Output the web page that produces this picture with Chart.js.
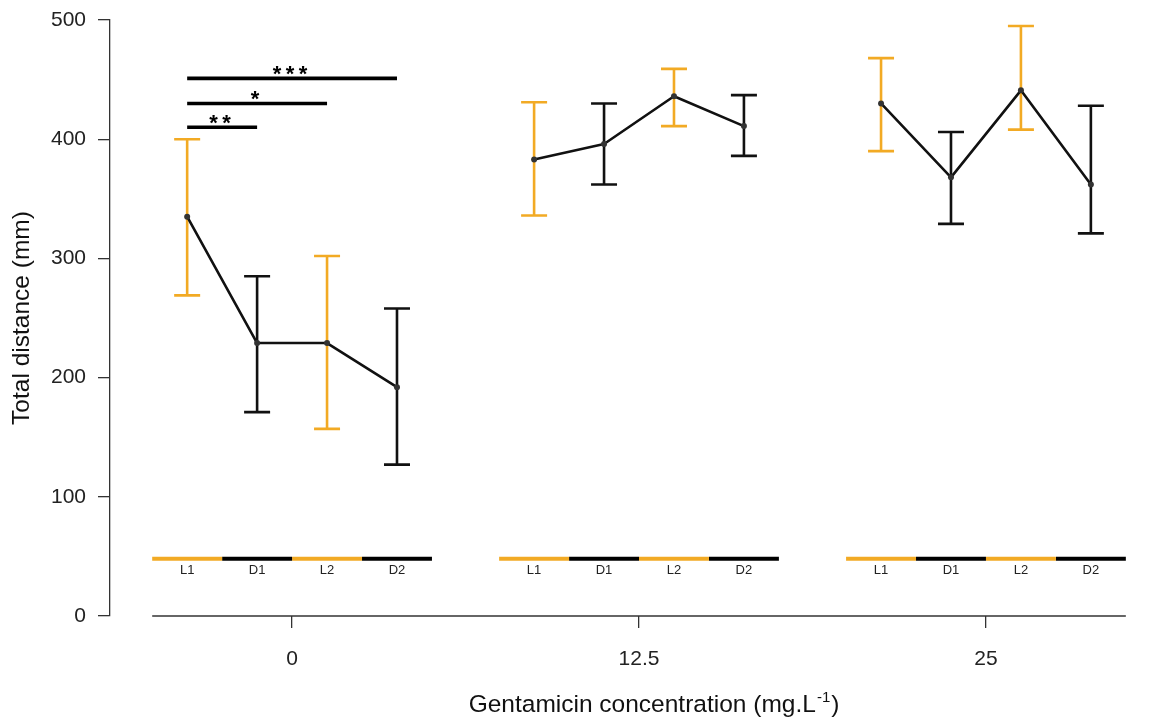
<!DOCTYPE html>
<html><head><meta charset="utf-8">
<script src="https://cdn.jsdelivr.net/npm/chart.js@4.4.1/dist/chart.umd.min.js"></script>
<style>html,body{margin:0;padding:0;background:#fff;}#wrap{width:1155px;height:720px;position:relative;}</style>
</head><body><div id="wrap"><canvas id="c"></canvas></div>
<script>
// ---- data ----
const concentrations = [0, 12.5, 25];
const concLabels = ['0', '12.5', '25'];
const phases = ['L1', 'D1', 'L2', 'D2'];
const mean0 = [335, 229, 229, 192];
const upper0 = [400, 285, 302, 258];
const lower0 = [269, 171, 157, 127];
const mean125 = [383, 396, 436, 411];
const upper125 = [431, 430, 459, 437];
const lower125 = [336, 362, 411, 386];
const mean25 = [430, 368, 441, 362];
const upper25 = [468, 406, 495, 428];
const lower25 = [390, 329, 408, 321];
const yTicks = [0, 100, 200, 300, 400, 500];
const sigFrom = ['L1', 'L1', 'L1'];
const sigTo = ['D1', 'L2', 'D2'];
const sigLevel = [410, 430, 451];
const sigStars = ['**', '*', '***'];

// ---- style ----
const ORANGE = '#F2AA24';
const BLACK = '#000000';
const phaseColors = [ORANGE, BLACK, ORANGE, BLACK];
const PW = 2.52;            // width of one phase slot in x units
const phaseBarY = 48;       // level of the phase strip
const FONT = "'Liberation Sans', Arial, Helvetica, sans-serif";
Chart.defaults.font.family = FONT;

const means = [mean0, mean125, mean25];
const uppers = [upper0, upper125, upper25];
const lowers = [lower0, lower125, lower25];
function phaseX(g, p) { return concentrations[g] + (p - 1.5) * PW; }

const datasets = [];
means.forEach((m, g) => {
  datasets.push({
    data: m.map((v, p) => ({x: phaseX(g, p), y: v})),
    showLine: true, borderColor: '#111', borderWidth: 2.6,
    pointRadius: 3, pointBackgroundColor: '#333', pointBorderWidth: 0,
    borderCapStyle: 'round', borderJoinStyle: 'round'
  });
});
sigFrom.forEach((f, i) => {
  const a = phases.indexOf(f), b = phases.indexOf(sigTo[i]);
  datasets.push({
    data: [{x: phaseX(0, a), y: sigLevel[i]}, {x: phaseX(0, b), y: sigLevel[i]}],
    showLine: true, borderColor: BLACK, borderWidth: 3.6, pointRadius: 0, borderCapStyle: 'butt'
  });
});
concentrations.forEach((c, g) => {
  phases.forEach((ph, p) => {
    datasets.push({
      data: [{x: phaseX(g, p) - PW / 2, y: phaseBarY}, {x: phaseX(g, p) + PW / 2, y: phaseBarY}],
      showLine: true, borderColor: phaseColors[p], borderWidth: 4, pointRadius: 0, borderCapStyle: 'butt'
    });
  });
});

const errorBars = {
  id: 'errorBars',
  beforeDatasetsDraw(chart) {
    const {ctx, scales: {x, y}} = chart;
    ctx.save();
    ctx.lineWidth = 2.6;
    ctx.lineCap = 'butt';
    means.forEach((m, g) => {
      m.forEach((v, p) => {
        const px = x.getPixelForValue(phaseX(g, p));
        const yt = y.getPixelForValue(uppers[g][p]);
        const yb = y.getPixelForValue(lowers[g][p]);
        ctx.strokeStyle = phaseColors[p] === BLACK ? '#111' : ORANGE;
        ctx.beginPath();
        ctx.moveTo(px, yt); ctx.lineTo(px, yb);
        ctx.moveTo(px - 13, yt); ctx.lineTo(px + 13, yt);
        ctx.moveTo(px - 13, yb); ctx.lineTo(px + 13, yb);
        ctx.stroke();
      });
    });
    ctx.restore();
  }
};

const annotations = {
  id: 'annotations',
  afterDatasetsDraw(chart) {
    const {ctx, scales: {x, y}} = chart;
    ctx.save();
    ctx.fillStyle = '#222';
    ctx.font = '13px ' + FONT;
    ctx.textAlign = 'center';
    ctx.textBaseline = 'middle';
    const ly = y.getPixelForValue(phaseBarY) + 12;
    concentrations.forEach((c, g) => phases.forEach((ph, p) => {
      ctx.fillText(ph, x.getPixelForValue(phaseX(g, p)), ly);
    }));
    ctx.fillStyle = '#000';
    ctx.font = 'bold 22px ' + FONT;
    ctx.textBaseline = 'alphabetic';
    sigFrom.forEach((f, i) => {
      const a = x.getPixelForValue(phaseX(0, phases.indexOf(f)));
      const b = x.getPixelForValue(phaseX(0, phases.indexOf(sigTo[i])));
      const cx = (a + b) / 2 - 2;
      const by = y.getPixelForValue(sigLevel[i]) + 3;
      const n = sigStars[i].length;
      for (let k = 0; k < n; k++) {
        ctx.fillText(sigStars[i][k], cx + (k - (n - 1) / 2) * 13, by);
      }
    });
    const x0 = x.getPixelForValue(phaseX(0, 0) - PW / 2);
    const x1 = x.getPixelForValue(phaseX(concentrations.length - 1, 3) + PW / 2);
    ctx.strokeStyle = '#333';
    ctx.lineWidth = 1.3;
    ctx.beginPath();
    ctx.moveTo(x0, y.bottom); ctx.lineTo(x1, y.bottom);
    ctx.stroke();
    const main = 'Gentamicin concentration (mg.L', sup = '-1', end = ')';
    ctx.fillStyle = '#111';
    ctx.font = '24.5px ' + FONT;
    const w1 = ctx.measureText(main).width, w3 = ctx.measureText(end).width;
    ctx.font = '15px ' + FONT;
    const w2 = ctx.measureText(sup).width;
    const total = w1 + w2 + w3;
    const cx = (x0 + x1) / 2 + 14;
    const ty = 712;
    let sx = cx - total / 2;
    ctx.textAlign = 'left';
    ctx.font = '24.5px ' + FONT;
    ctx.fillText(main, sx, ty);
    ctx.font = '15px ' + FONT;
    ctx.fillText(sup, sx + w1 + 1, ty - 10);
    ctx.font = '24.5px ' + FONT;
    ctx.fillText(end, sx + w1 + w2 + 2, ty);
    ctx.restore();
  }
};

new Chart(document.getElementById('c'), {
  type: 'scatter',
  data: {datasets},
  options: {
    responsive: true, maintainAspectRatio: false, animation: false,
    layout: {padding: {top: 20, right: 15, left: 0, bottom: 0}},
    plugins: {legend: {display: false}, tooltip: {enabled: false}},
    scales: {
      x: {
        type: 'linear', min: -6.56, max: 30.55,
        afterBuildTicks: s => { s.ticks = concentrations.map(v => ({value: v})); },
        afterFit: s => { s.height = 104; s.paddingLeft = 0; s.paddingRight = 0; },
        ticks: {
          callback: v => concLabels[concentrations.indexOf(v)],
          font: {size: 21}, color: '#222', padding: 19, maxRotation: 0, autoSkip: false
        },
        grid: {drawOnChartArea: false, drawTicks: true, tickLength: 12, color: '#333', lineWidth: 1.3},
        border: {display: false}
      },
      y: {
        min: 0, max: 500,
        afterBuildTicks: s => { s.ticks = yTicks.map(v => ({value: v})); },
        afterFit: s => { s.width = 110; s.paddingTop = 0; s.paddingBottom = 0; },
        ticks: {font: {size: 21}, color: '#222', padding: 12},
        grid: {drawOnChartArea: false, drawTicks: true, tickLength: 12, color: '#333', lineWidth: 1.3},
        border: {display: true, color: '#333', width: 1.3},
        title: {display: true, text: 'Total distance (mm)', font: {size: 24.5}, color: '#111', padding: {top: 8, bottom: 0}}
      }
    }
  },
  plugins: [errorBars, annotations]
});
</script></body></html>
